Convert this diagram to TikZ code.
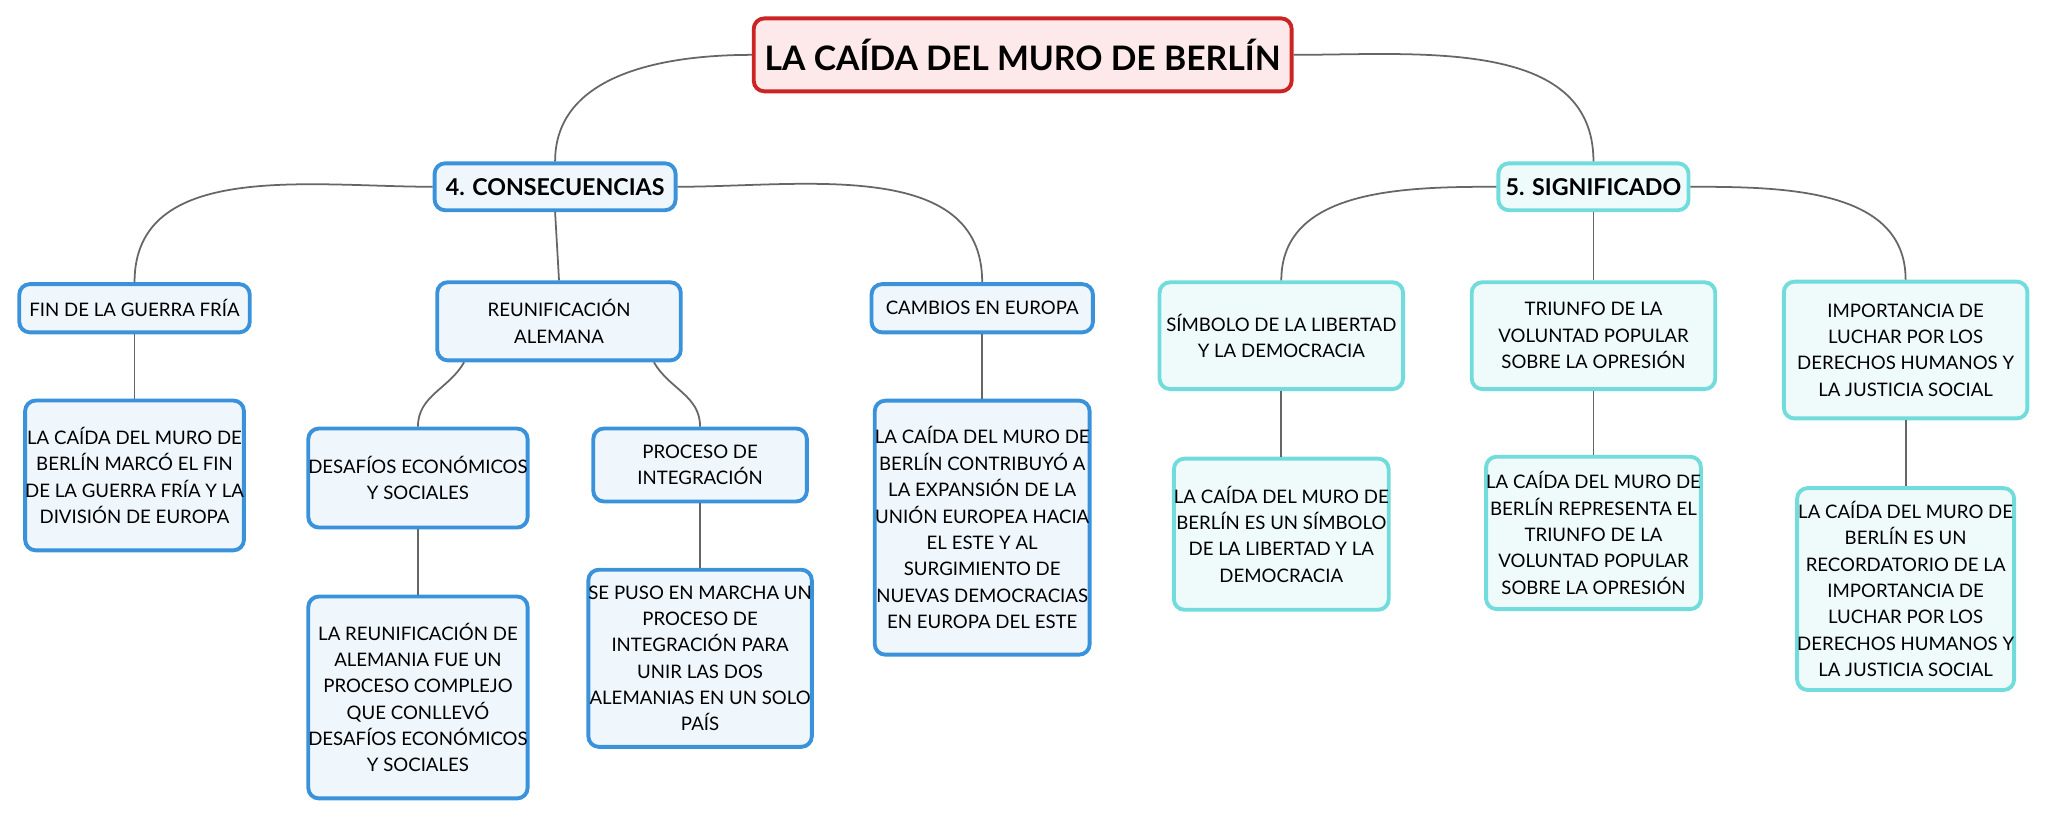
\documentclass[tikz,border=0pt]{standalone}
\usepackage{fontspec}
\setmainfont{Lato}
\newlength\uu \setlength\uu{0.3706pt}
\begin{document}
\begin{tikzpicture}[x=0.013061cm,y=-0.013061cm,
 base/.style={draw,rounded corners=3pt,line width=1.1pt,align=center,inner sep=0pt,font=\fontsize{5.3}{7.5}\selectfont},
 bl/.style={base,draw=blueB,fill=blueF},
 cy/.style={base,draw=cyanB,fill=cyanF},
 hd/.style={font=\fontsize{6.6}{8}\selectfont\bfseries},
 ln/.style={draw=gray!80!black,line width=0.5pt}]
\definecolor{blueB}{HTML}{3A92DA}\definecolor{blueF}{HTML}{EFF6FC}
\definecolor{cyanB}{HTML}{72DCDC}\definecolor{cyanF}{HTML}{EFFBFB}
\definecolor{redB}{HTML}{CC2424}\definecolor{redF}{HTML}{FDE9E9}
\useasboundingbox (0,0) rectangle (1568,628);
\fill[white] (0,0) rectangle (1568,628);
\def\bx#1#2#3#4#5#6#7{\node[#1,minimum width=\dimexpr\uu*#5\relax,minimum height=\dimexpr\uu*#6\relax] (#2) at (#3,#4) {#7};}
\node[base,draw=redB,fill=redF,minimum width=\dimexpr\uu*413\relax,minimum height=\dimexpr\uu*56\relax,font=\fontsize{9.6}{11}\selectfont\bfseries] (t) at (783,42) {LA CAÍDA DEL MURO DE BERLÍN};
\bx{bl,hd}{c}{425}{143}{185}{36}{4. CONSECUENCIAS}
\bx{cy,hd}{s}{1220}{143}{146}{36}{5. SIGNIFICADO}
\bx{bl}{fin}{103}{236}{177}{37}{FIN DE LA GUERRA FRÍA}
\bx{bl}{reu}{428}{246}{187}{60}{REUNIFICACIÓN\\ALEMANA}
\bx{bl}{cam}{752}{236}{170}{37}{CAMBIOS EN EUROPA}
\bx{cy}{sim}{981}{257}{187}{82}{SÍMBOLO DE LA LIBERTAD\\Y LA DEMOCRACIA}
\bx{cy}{tri}{1220}{257}{187}{82}{TRIUNFO DE LA\\VOLUNTAD POPULAR\\SOBRE LA OPRESIÓN}
\bx{cy}{imp}{1459}{268}{187}{105}{IMPORTANCIA DE\\LUCHAR POR LOS\\DERECHOS HUMANOS Y\\LA JUSTICIA SOCIAL}
\bx{bl}{finD}{103}{364}{163}{115}{LA CAÍDA DEL MURO DE\\BERLÍN MARCÓ EL FIN\\DE LA GUERRA FRÍA Y LA\\DIVISIÓN DE EUROPA}
\bx{bl}{des}{320}{366}{165}{76}{DESAFÍOS ECONÓMICOS\\Y SOCIALES}
\bx{bl}{pro}{536}{356}{164}{56}{PROCESO DE\\INTEGRACIÓN}
\bx{bl}{camD}{752}{404}{165}{195}{LA CAÍDA DEL MURO DE\\BERLÍN CONTRIBUYÓ A\\LA EXPANSIÓN DE LA\\UNIÓN EUROPEA HACIA\\EL ESTE Y AL\\SURGIMIENTO DE\\NUEVAS DEMOCRACIAS\\EN EUROPA DEL ESTE}
\bx{bl}{desD}{320}{534}{165}{155}{LA REUNIFICACIÓN DE\\ALEMANIA FUE UN\\PROCESO COMPLEJO\\QUE CONLLEVÓ\\DESAFÍOS ECONÓMICOS\\Y SOCIALES}
\bx{bl}{proD}{536}{504}{164}{136}{SE PUSO EN MARCHA UN\\PROCESO DE\\INTEGRACIÓN PARA\\UNIR LAS DOS\\ALEMANIAS EN UN SOLO\\PAÍS}
\bx{cy}{simD}{981}{409}{164}{116}{LA CAÍDA DEL MURO DE\\BERLÍN ES UN SÍMBOLO\\DE LA LIBERTAD Y LA\\DEMOCRACIA}
\bx{cy}{triD}{1220}{408}{164}{117}{LA CAÍDA DEL MURO DE\\BERLÍN REPRESENTA EL\\TRIUNFO DE LA\\VOLUNTAD POPULAR\\SOBRE LA OPRESIÓN}
\bx{cy}{impD}{1459}{451}{164}{155}{LA CAÍDA DEL MURO DE\\BERLÍN ES UN\\RECORDATORIO DE LA\\IMPORTANCIA DE\\LUCHAR POR LOS\\DERECHOS HUMANOS Y\\LA JUSTICIA SOCIAL}
\draw[ln] (t.west) to[out=180,in=90] (c.north);
\draw[ln] (t.east) to[out=0,in=90] (s.north);
\draw[ln] (c.west) to[out=180,in=90] (fin.north);
\draw[ln] (c.south) -- (reu.north);
\draw[ln] (c.east) to[out=0,in=90] (cam.north);
\draw[ln] (s.west) to[out=180,in=90] (sim.north);
\draw[ln] (s.south) -- (tri.north);
\draw[ln] (s.east) to[out=0,in=90] (imp.north);
\draw[ln] ([xshift=-27pt]reu.south) to[out=240,in=90] (des.north);
\draw[ln] ([xshift=27pt]reu.south) to[out=300,in=90] (pro.north);
\draw[ln] (fin.south) -- (finD.north);
\draw[ln] (des.south) -- (desD.north);
\draw[ln] (pro.south) -- (proD.north);
\draw[ln] (cam.south) -- (camD.north);
\draw[ln] (sim.south) -- (simD.north);
\draw[ln] (tri.south) -- (triD.north);
\draw[ln] (imp.south) -- (impD.north);
\end{tikzpicture}
\end{document}
